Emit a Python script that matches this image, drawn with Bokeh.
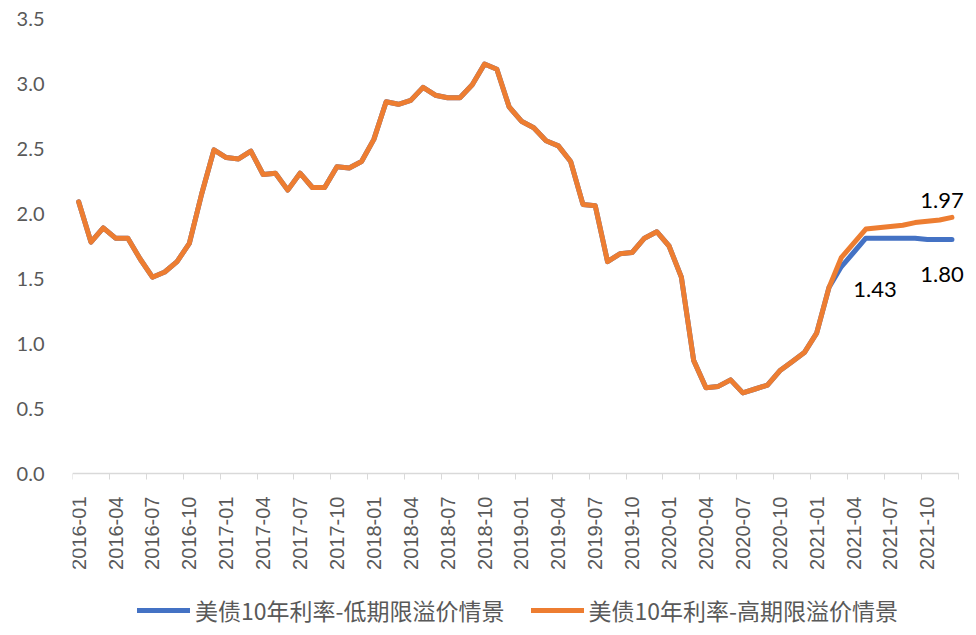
from bokeh.plotting import figure
from bokeh.models import Range1d, FixedTicker, Legend, LegendItem, NumeralTickFormatter
from bokeh.core.properties import value
from bokeh.embed import file_html
from bokeh.resources import INLINE
import numpy as np

# Monthly categories 2016-01 .. 2021-12
months = [f"{y}-{m:02d}" for y in range(2016, 2022) for m in range(1, 13)]

# Shared history (2016-01 .. 2021-02)
history = [2.09, 1.78, 1.89, 1.81, 1.81, 1.65, 1.51, 1.55, 1.63, 1.77,
           2.15, 2.49, 2.43, 2.42, 2.48, 2.30, 2.31, 2.18, 2.31, 2.20,
           2.20, 2.36, 2.35, 2.40, 2.57, 2.86, 2.84, 2.87, 2.97, 2.91,
           2.89, 2.89, 2.99, 3.15, 3.11, 2.82, 2.71, 2.66, 2.56, 2.52,
           2.40, 2.07, 2.06, 1.63, 1.69, 1.70, 1.81, 1.86, 1.75, 1.51,
           0.87, 0.66, 0.67, 0.72, 0.62, 0.65, 0.68, 0.79, 0.86, 0.93,
           1.08, 1.43]
# Scenario paths (2021-03 .. 2021-12)
low_tail = [1.59, 1.70, 1.81, 1.81, 1.81, 1.81, 1.81, 1.80, 1.80, 1.80]
high_tail = [1.66, 1.77, 1.88, 1.89, 1.90, 1.91, 1.93, 1.94, 1.95, 1.97]

low_series = history + low_tail
high_series = history + high_tail
name_low = "美债10年利率-低期限溢价情景"
name_high = "美债10年利率-高期限溢价情景"

x = list(range(len(months)))
n = len(months)

# frame spans 72..976 px horizontally (12.3 px per month) and 18..635 px vertically (130 px per unit)
x_end = -0.5 + 904 / 12.3
y_start = -(635 - 473) / 130.0

p = figure(width=976, height=635, output_backend="svg", toolbar_location=None,
           x_range=Range1d(-0.5, x_end), y_range=Range1d(y_start, 3.5),
           min_border_left=72, min_border_right=0, min_border_top=18, min_border_bottom=0)
p.outline_line_color = None
p.background_fill_color = "white"
p.border_fill_color = "white"
p.xgrid.grid_line_color = None
p.ygrid.grid_line_color = None

r_low = p.line(x, low_series, line_color="#4472C4", line_width=5, line_join="round", line_cap="round")
r_high = p.line(x, high_series, line_color="#ED7D31", line_width=5, line_join="round", line_cap="round")

# Data labels
lab_font = value("Lato")
p.text(x=[x[-1]], y=[high_series[-1]], text=[f"{high_series[-1]:.2f}"], x_offset=-10, y_offset=-17,
       text_align="center", text_baseline="middle", text_font=lab_font, text_font_size="22px", text_color="black")
p.text(x=[x[-1]], y=[low_series[-1]], text=[f"{low_series[-1]:.2f}"], x_offset=-10, y_offset=35,
       text_align="center", text_baseline="middle", text_font=lab_font, text_font_size="22px", text_color="black")
i43 = len(history) - 1
p.text(x=[x[i43]], y=[low_series[i43]], text=[f"{low_series[i43]:.2f}"], x_offset=46, y_offset=2,
       text_align="center", text_baseline="middle", text_font=lab_font, text_font_size="22px", text_color="black")

# X axis, drawn at y = 0
major = list(range(0, n, 3))
minor = [i - 0.5 for i in range(0, n + 1, 3)]
p.xaxis.fixed_location = 0
p.xaxis.bounds = (-0.5, n - 0.5)
p.xaxis.ticker = FixedTicker(ticks=major, minor_ticks=minor)
p.xaxis.major_label_overrides = {i: months[i] for i in major}
p.xaxis.major_label_orientation = np.pi / 2
p.xaxis.major_tick_line_color = None
p.xaxis.major_tick_out = 0
p.xaxis.major_tick_in = 0
p.xaxis.minor_tick_line_color = "#d9d9d9"
p.xaxis.minor_tick_out = 6
p.xaxis.minor_tick_in = 0
p.xaxis.axis_line_color = "#d9d9d9"
p.xaxis.axis_line_width = 1.5
p.xaxis.major_label_text_font = "Liberation Sans"
p.xaxis.major_label_text_font_size = "20px"
p.xaxis.major_label_text_color = "#595959"
p.xaxis.major_label_standoff = 17

# Y axis
p.yaxis.ticker = FixedTicker(ticks=[0, 0.5, 1.0, 1.5, 2.0, 2.5, 3.0, 3.5])
p.yaxis.formatter = NumeralTickFormatter(format="0.0")
p.yaxis.axis_line_color = None
p.yaxis.major_tick_line_color = None
p.yaxis.minor_tick_line_color = None
p.yaxis.major_tick_out = 0
p.yaxis.major_tick_in = 0
p.yaxis.major_label_standoff = 28
p.yaxis.major_label_text_font = "Lato"
p.yaxis.major_label_text_font_size = "20px"
p.yaxis.major_label_text_color = "#595959"

legend = Legend(items=[LegendItem(label=name_low, renderers=[r_low]),
                       LegendItem(label=name_high, renderers=[r_high])],
                location=(65, 8), orientation="horizontal")
legend.border_line_color = None
legend.background_fill_alpha = 0
legend.label_text_font = "Noto Sans CJK SC"
legend.label_text_font_size = "23px"
legend.label_text_color = "#595959"
legend.glyph_width = 53
legend.glyph_height = 22
legend.label_height = 22
legend.label_standoff = 5
legend.spacing = 26
legend.padding = 0
legend.margin = 0
p.add_layout(legend, "center")

open("out.html", "w").write(file_html(p, INLINE))
